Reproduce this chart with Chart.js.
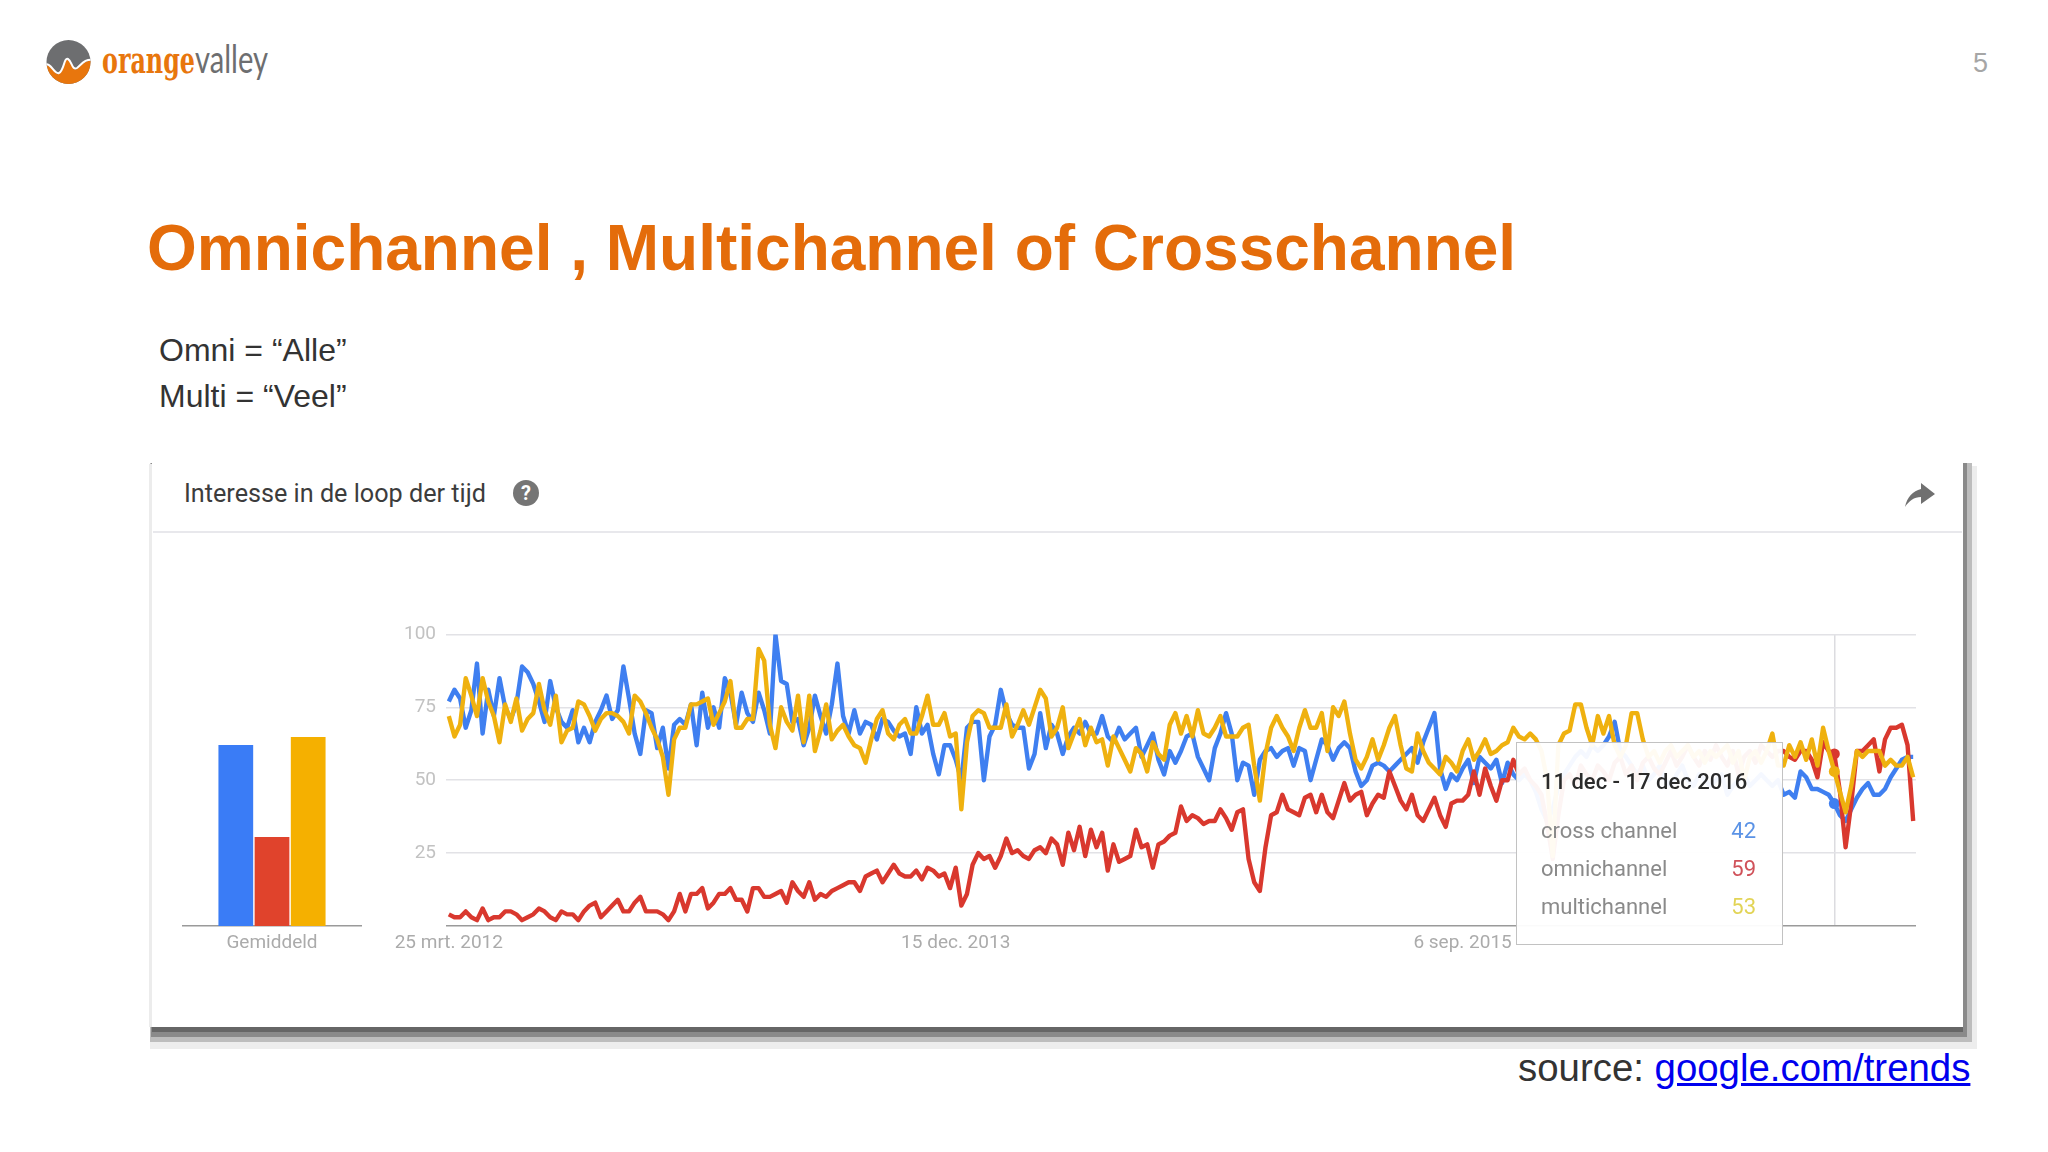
<!DOCTYPE html>
<html><head><meta charset="utf-8">
<script src="https://cdn.jsdelivr.net/npm/chart.js@4"></script>
<style>
html,body{margin:0;padding:0;background:#fff;width:2048px;height:1152px;overflow:hidden;font-family:"Liberation Sans",Arial,sans-serif}
.abs{position:absolute;white-space:nowrap}
.sh{position:absolute}
#card{position:absolute;left:152px;top:461px;width:1811px;height:566px;background:#fff}
#sep{position:absolute;left:153px;top:531px;width:1809px;height:2px;background:#e8e8ec}
canvas{position:absolute}
#tip{position:absolute;left:1516px;top:742px;width:267px;height:203px;box-sizing:border-box;border:1.5px solid #c2c2c2;background:rgba(255,255,255,.95);font-family:Roboto,sans-serif}
#tip .t{position:absolute;left:24px;top:25px;font-size:22px;font-weight:500;color:#2b2b2b;white-space:nowrap;line-height:28px}
#tip .n{position:absolute;left:24px;font-size:22px;color:#8a8a8a;line-height:28px;white-space:nowrap}
#tip .v{position:absolute;right:26px;font-size:22px;line-height:28px}
</style></head><body>
<svg class="abs" style="left:0;top:0" width="400" height="110" viewBox="0 0 400 110">
  <defs><clipPath id="cc"><circle cx="68.5" cy="62" r="22"/></clipPath></defs>
  <g clip-path="url(#cc)">
    <rect x="44" y="38" width="50" height="50" fill="#6d6e70"/>
    <path d="M44 66 C51 62 54 76 59 74 C64 72 64 58 68 60 C72 62 72 72 77 69 C81 66 85 59 94 61 L94 90 L44 90 Z" fill="#e8760d"/>
    <path d="M44 65 C51 61 54 75 59 73 C64 71 64 57 68 59 C72 61 72 71 77 68 C81 65 85 58 94 60" fill="none" stroke="#fff" stroke-width="2"/>
  </g>
  <text x="102" y="73" font-family="DejaVu Serif" font-weight="700" font-size="35" fill="#e8760d" textLength="93" lengthAdjust="spacingAndGlyphs">orange</text>
  <text x="195" y="73" font-family="Lato" font-size="38" fill="#6d6e70" textLength="73" lengthAdjust="spacingAndGlyphs">valley</text>
</svg>
<div class="abs" style="left:1973px;top:48px;font-size:27px;color:#a6a6a6">5</div>
<div class="abs" id="title" style="left:147px;top:210px;font-size:64px;font-weight:700;color:#e46c0a;line-height:76px">Omnichannel , Multichannel of Crosschannel</div>
<div class="abs" style="left:159px;top:331px;font-size:32px;color:#333;line-height:38px">Omni = “Alle”</div>
<div class="abs" style="left:159px;top:377px;font-size:32px;color:#333;line-height:38px">Multi = “Veel”</div>
<div class="sh" style="left:150px;top:466px;width:1827px;height:583px;background:#ededed"></div>
<div class="sh" style="left:150px;top:463px;width:1822px;height:579px;background:#bdbdbd"></div>
<div class="sh" style="left:151px;top:463px;width:1816px;height:574px;background:#8a8a8a"></div>
<div class="sh" style="left:152px;top:464px;width:1811px;height:568px;background:#666"></div>
<div class="sh" style="left:149px;top:464px;width:1813px;height:563px;background:#ececec"></div>
<div id="card"></div>
<div id="sep"></div>
<div class="abs" style="left:184px;top:479px;font-family:Roboto,sans-serif;font-size:25.2px;color:#3c3c3c;line-height:30px">Interesse in de loop der tijd</div>
<svg class="abs" style="left:510px;top:477px" width="32" height="32"><circle cx="16" cy="16" r="13" fill="#757575"/><text x="16" y="23" text-anchor="middle" font-family="Roboto" font-weight="700" font-size="20" fill="#fff">?</text></svg>
<svg class="abs" style="left:1900px;top:480px" width="40" height="30" viewBox="0 0 40 30"><path d="M5 27 C7 17 13 11 21 9 L21 3 L35 14 L21 24 L21 17 C14 17 9 21 5 27 Z" fill="#707070"/></svg>
<canvas id="bars" width="200" height="340" style="left:172px;top:620px"></canvas>
<canvas id="lines" width="1560" height="347" style="left:380px;top:613px"></canvas>
<div id="tip"></div>
<div class="abs" style="left:1518px;top:1046px;font-size:38.4px;color:#333;line-height:44px">source: <span style="color:#0000ee;text-decoration:underline">google.com/trends</span></div>
<script>
const seriesNames = ["cross channel","omnichannel","multichannel"];
const averageLabel = ["Gemiddeld"];
const averages = [62,30.5,64.7];
const yTicks = [25,50,75,100];
const xTickLabels = {0:"25 mrt. 2012",90:"15 dec. 2013",180:"6 sep. 2015"};
const hoverWeek = 246;
const hoverTitle = "11 dec - 17 dec 2016";
const crossChannel = [
77,81,78,68,74,90,66,81,72,85,
75,71,76,89,87,83,77,70,84,75,
70,68,74,63,68,63,70,74,79,71,
74,89,78,66,59,74,73,61,68,54,
69,71,69,76,62,80,68,75,68,85,
80,69,80,73,70,80,74,66,100,84,
83,70,71,62,68,79,72,66,76,90,
72,66,74,66,70,69,64,71,70,67,
65,66,59,75,66,69,59,52,62,62,
57,50,68,70,70,50,65,69,81,73,
69,68,68,54,59,73,61,69,66,59,
65,68,66,70,66,66,72,65,63,68,
64,66,68,58,62,66,57,52,60,56,
60,65,66,58,54,50,61,66,73,66,
50,56,55,45,57,60,61,58,60,61,
55,61,60,50,57,64,62,57,61,63,
61,53,48,50,55,56,55,53,55,57,
59,61,56,63,68,73,54,47,52,50,
54,57,49,58,56,54,57,49,56,52,
50,52,50,46,40,36,40,48,52,55,
58,60,58,62,60,62,65,70,60,58,
55,52,55,50,52,55,50,48,52,55,
50,48,52,50,48,50,52,45,48,50,
52,48,50,52,50,48,50,45,46,44,
53,51,47,47,46,45,42,38,36,40,
44,47,49,45,45,47,51,54,57,58,
58];
const omniChannel = [
4,3,3,5,3,2,6,2,3,3,
5,5,4,2,3,4,6,5,3,2,
5,4,4,2,5,7,8,3,5,7,
9,5,5,8,10,5,5,5,4,2,
5,11,5,11,11,13,6,8,11,11,
13,9,9,5,13,13,10,10,11,12,
8,15,12,10,15,9,11,10,12,13,
14,15,15,12,17,18,19,15,18,21,
18,17,17,19,16,20,19,17,18,13,
20,7,11,21,25,23,24,20,24,30,
25,26,24,23,26,27,25,30,28,21,
32,26,34,24,33,27,32,19,28,22,
23,24,33,27,28,20,28,29,31,32,
41,36,38,37,35,36,36,40,37,33,
39,40,23,15,12,27,38,39,45,40,
39,38,44,45,39,45,39,37,43,49,
43,45,46,38,42,45,44,53,48,43,
40,45,38,36,40,44,38,34,42,43,
43,45,53,45,54,48,43,50,50,57,
52,54,50,48,45,35,23,38,50,52,
48,55,52,50,55,53,50,56,58,52,
55,50,56,58,54,52,56,60,55,58,
62,58,55,60,57,62,58,55,60,52,
58,60,56,62,60,58,60,60,58,57,
60,60,57,51,63,60,59,46,27,42,
60,60,62,64,53,64,68,68,69,62,
36];
const multiChannel = [
72,65,69,85,79,72,85,77,72,63,
76,70,78,67,71,73,83,74,69,79,
63,67,68,77,76,72,67,71,73,73,
72,70,66,79,77,73,68,64,58,45,
64,68,68,76,76,77,78,69,73,77,
84,68,68,71,71,95,91,69,61,75,
70,67,79,63,79,60,67,76,64,67,
69,65,62,61,56,64,71,74,66,64,
69,71,66,66,72,79,69,69,73,65,
66,40,63,72,74,73,68,68,68,76,
65,69,74,69,75,81,78,65,68,75,
61,66,71,62,68,63,64,55,65,61,
57,53,61,59,53,63,59,57,69,73,
66,72,65,74,66,65,68,72,65,65,
65,68,69,55,43,59,68,72,68,65,
60,68,74,68,68,73,60,75,72,77,
66,57,54,58,64,57,62,68,72,62,
54,53,66,60,56,54,52,58,56,53,
60,64,57,60,64,59,60,62,63,68,
65,64,66,64,60,50,24,62,66,67,
76,76,68,62,72,66,72,62,58,62,
73,73,64,58,60,56,60,62,58,60,
62,58,60,56,60,58,60,62,56,60,
50,58,60,56,60,66,55,55,62,58,
63,57,64,55,68,60,53,46,39,48,
60,58,60,60,60,55,57,55,55,58,
51];
const seriesValues = [crossChannel,omniChannel,multiChannel];
const lineColors = ["#3f7ff0","#d9382e","#efb10f"];
const barColors = ["#3a7cf6","#e0432c","#f5b000"];
const tipColors = ["#5b93e6","#d0525a","#e2d456"];
const weeks = crossChannel.map((_,i)=>i);

Chart.defaults.animation = false;
new Chart(document.getElementById("lines"),{
  type:"line",
  data:{labels:weeks,datasets:seriesValues.map((d,k)=>({
    label:seriesNames[k],data:d,borderColor:lineColors[k],backgroundColor:lineColors[k],
    borderWidth:4.4,tension:0,borderJoinStyle:"round",
    order:2-k,
    pointRadius:c=>c.dataIndex===hoverWeek?5.5:0,pointBorderWidth:0
  }))},
  options:{responsive:false,devicePixelRatio:1,
    layout:{autoPadding:false,padding:{top:7,right:24,left:0,bottom:0}},
    plugins:{legend:{display:false},tooltip:{enabled:false}},
    scales:{
      x:{type:"category",offset:true,
        grid:{drawTicks:false,color:c=>c.index===hoverWeek?"#dcdce0":"rgba(0,0,0,0)",lineWidth:1.5},
        border:{display:false},
        afterFit:s=>{s.height=34},
        ticks:{autoSkip:false,maxRotation:0,minRotation:0,padding:6,color:"#ababab",font:{family:"Roboto",size:19},
          callback:(v,i)=>xTickLabels[i]||""}},
      y:{min:0,max:100,
        afterFit:s=>{s.width=66},
        afterBuildTicks:s=>{s.ticks=[0].concat(yTicks).map(v=>({value:v}))},
        grid:{drawTicks:false,color:c=>c.tick.value===0?"#9a9a9a":"#e2e2e6",lineWidth:1.5},
        border:{display:false},
        ticks:{padding:10,color:"#c2c2c2",font:{family:"Roboto",size:19},callback:v=>v===0?"":String(v)}}
    }}
});
new Chart(document.getElementById("bars"),{
  type:"bar",
  data:{labels:averageLabel,datasets:seriesNames.map((n,k)=>({label:n,data:[averages[k]],backgroundColor:barColors[k]}))},
  options:{responsive:false,devicePixelRatio:1,
    layout:{autoPadding:false,padding:{top:14,left:11,right:11,bottom:0}},
    datasets:{bar:{categoryPercentage:0.61,barPercentage:0.96}},
    plugins:{legend:{display:false},tooltip:{enabled:false}},
    scales:{
      x:{grid:{display:false,drawTicks:false},border:{color:"#9a9a9a",width:1.5},afterFit:s=>{s.height=34},
        ticks:{padding:6,color:"#ababab",font:{family:"Roboto",size:19}}},
      y:{display:false,min:0,max:100}
    }}
});
const tip=document.getElementById("tip");
function add(cls,txt,top,col){const e=document.createElement("div");e.className=cls;e.textContent=txt;if(top!=null)e.style.top=top+"px";if(col)e.style.color=col;tip.appendChild(e);}
add("t",hoverTitle);
seriesNames.forEach((n,k)=>{const top=74+k*38;add("n",n,top);add("v",seriesValues[k][hoverWeek],top,tipColors[k]);});
</script>
</body></html>
